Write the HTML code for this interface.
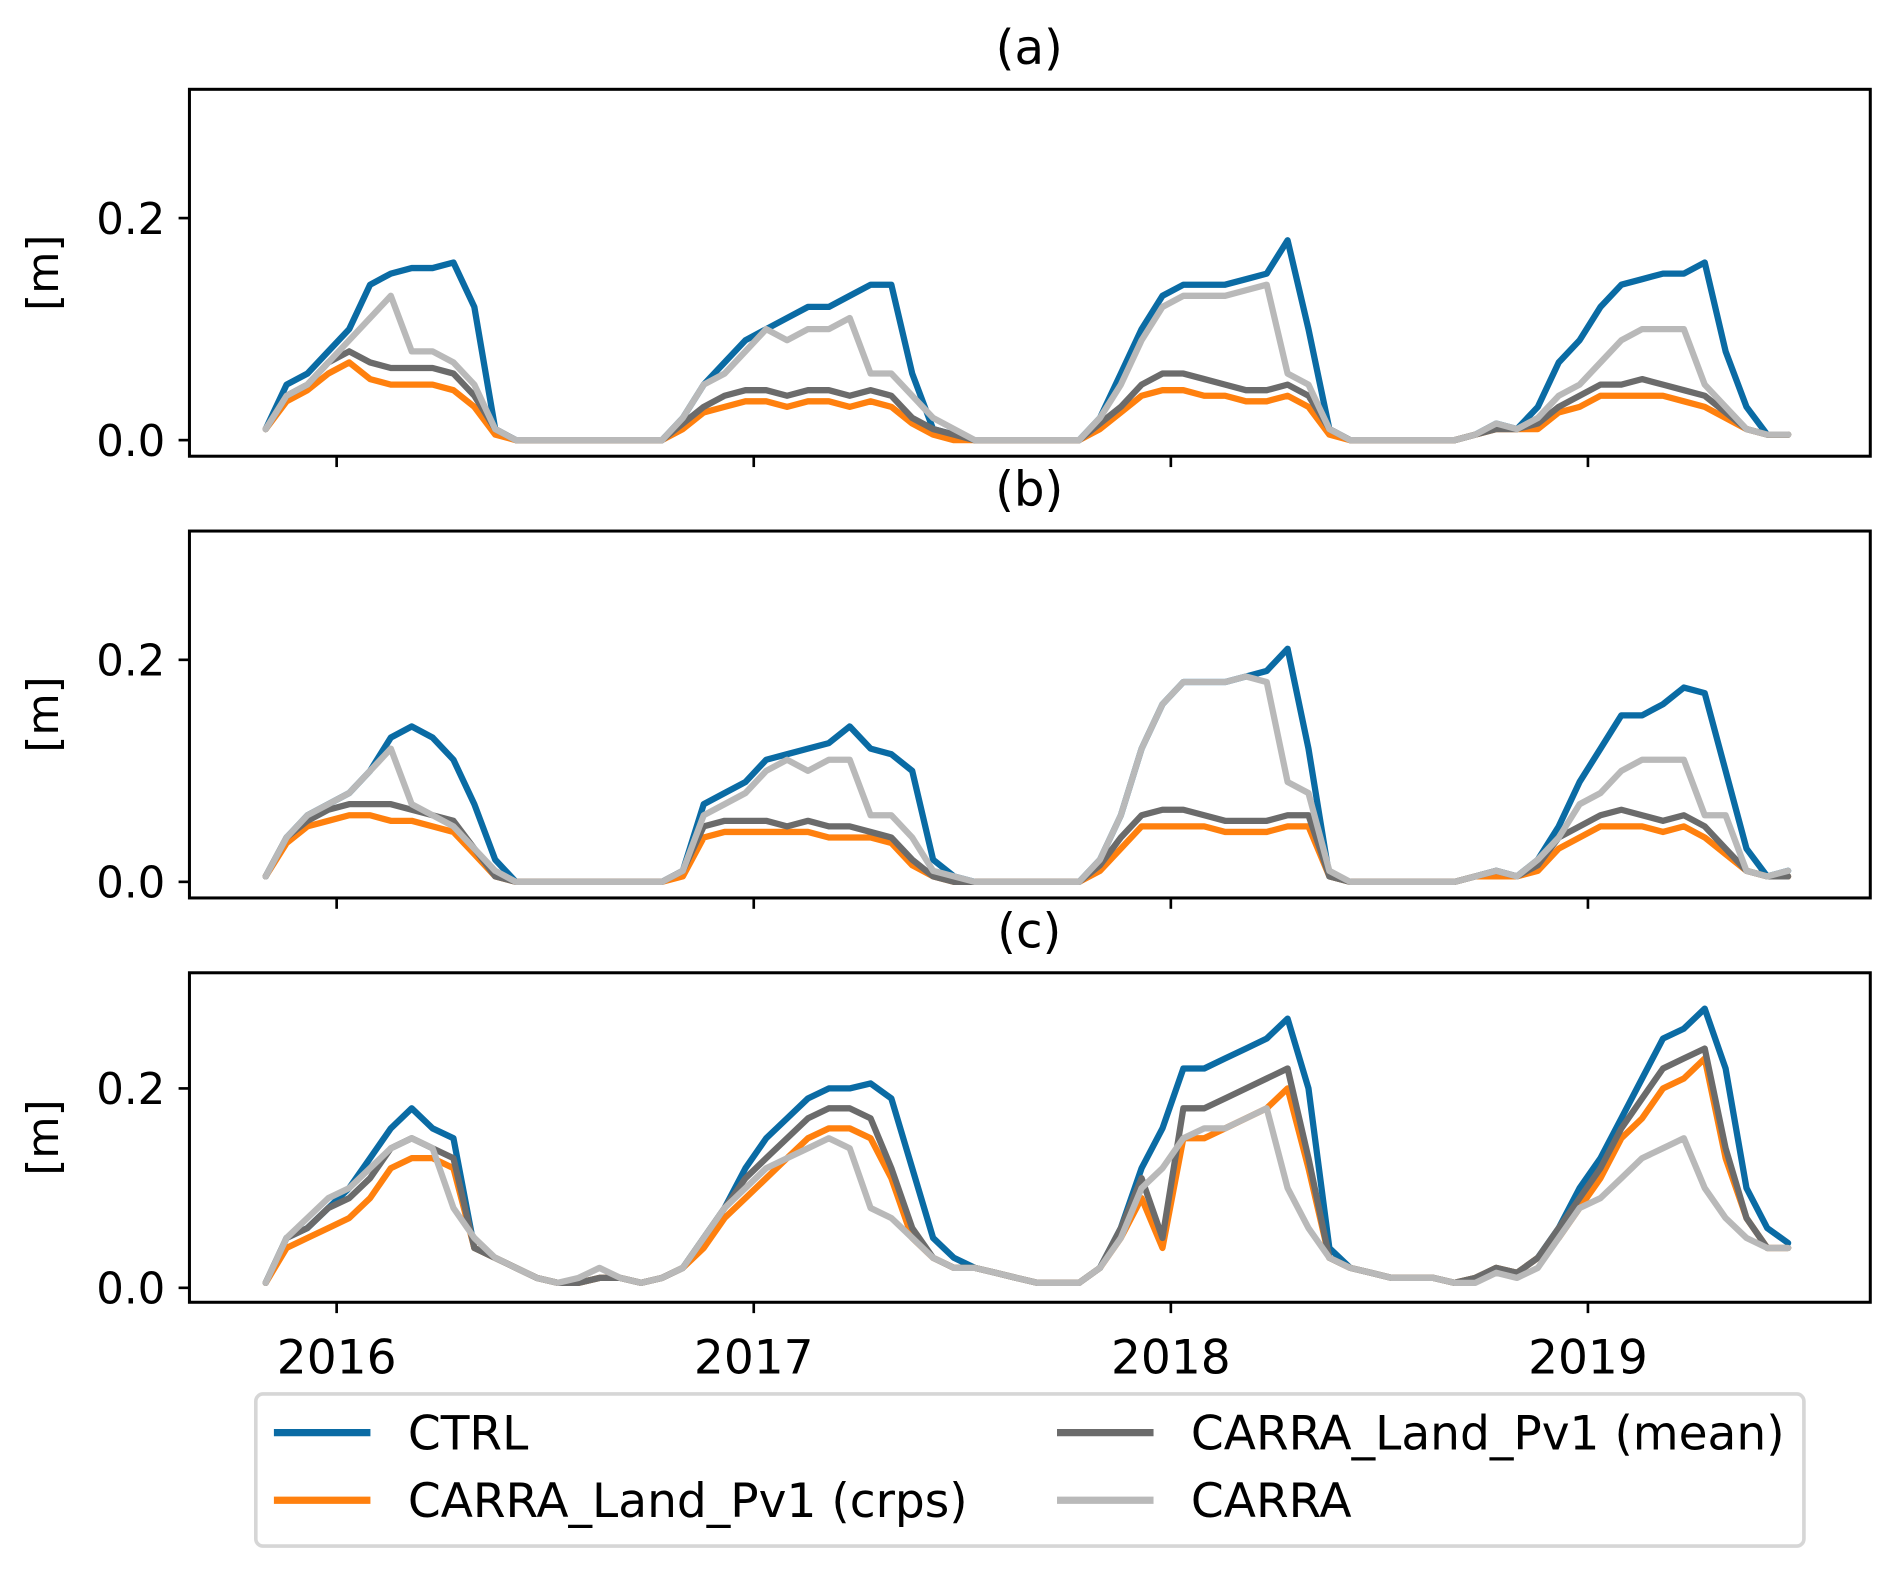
<!DOCTYPE html>
<html><head><meta charset="utf-8"><style>
html,body{margin:0;padding:0;background:#fff;}
svg{display:block;}
text{font-family:"DejaVu Sans","Liberation Sans",sans-serif;fill:#000;}
</style></head><body>
<svg id="chart" width="1892" height="1569" viewBox="0 0 1568 1300" preserveAspectRatio="none" xmlns="http://www.w3.org/2000/svg">
<g id="root"></g>
</svg>
<script>
const times = []; // decimal years, shared sampling grid
for (let i = 0; i < 74; i++) times.push(+(2015.83 + 0.05 * i).toFixed(2));
const xTickYears = [2016, 2017, 2018, 2019];
const yTickVals = [0.0, 0.2];
const yTickLabels = ["0.0", "0.2"];
const panelTitles = ["(a)", "(b)", "(c)"];
const seriesNames = ["CTRL", "CARRA_Land_Pv1 (crps)", "CARRA_Land_Pv1 (mean)", "CARRA"];

const ctrlA = [.01,.05,.06,.08,.10,.14,.15,.155,.155,.16,.12,.01,0, 0,0,0,0,0,0,0, .02,.05,.07,.09,.10,.11,.12,.12,.13,.14,.14,.06,.01,.005, 0,0,0,0,0,0, .02,.06,.10,.13,.14,.14,.14,.145,.15,.18,.10,.01,0, 0,0,0,0,0, .005,.015,.01,.03,.07,.09,.12,.14,.145,.15,.15,.16,.08,.03,.005,.005];
const crpsA = [.01,.035,.045,.06,.07,.055,.05,.05,.05,.045,.03,.005,0, 0,0,0,0,0,0,0, .01,.025,.03,.035,.035,.03,.035,.035,.03,.035,.03,.015,.005,0, 0,0,0,0,0,0, .01,.025,.04,.045,.045,.04,.04,.035,.035,.04,.03,.005,0, 0,0,0,0,0, .005,.01,.01,.01,.025,.03,.04,.04,.04,.04,.035,.03,.02,.01,.005,.005];
const meanA = [.01,.04,.05,.07,.08,.07,.065,.065,.065,.06,.04,.01,0, 0,0,0,0,0,0,0, .015,.03,.04,.045,.045,.04,.045,.045,.04,.045,.04,.02,.01,.005, 0,0,0,0,0,0, .015,.03,.05,.06,.06,.055,.05,.045,.045,.05,.04,.01,0, 0,0,0,0,0, .005,.01,.01,.015,.03,.04,.05,.05,.055,.05,.045,.04,.025,.01,.005,.005];
const carraA = [.01,.04,.05,.07,.09,.11,.13,.08,.08,.07,.05,.01,0, 0,0,0,0,0,0,0, .02,.05,.06,.08,.10,.09,.10,.10,.11,.06,.06,.04,.02,.01, 0,0,0,0,0,0, .02,.05,.09,.12,.13,.13,.13,.135,.14,.06,.05,.01,0, 0,0,0,0,0, .005,.015,.01,.02,.04,.05,.07,.09,.10,.10,.10,.05,.03,.01,.005,.005];

const ctrlB = [.005,.04,.06,.07,.08,.10,.13,.14,.13,.11,.07,.02,0, 0,0,0,0,0,0,0, .01,.07,.08,.09,.11,.115,.12,.125,.14,.12,.115,.10,.02,.005, 0,0,0,0,0,0, .02,.06,.12,.16,.18,.18,.18,.185,.19,.21,.12,.005,0, 0,0,0,0,0, .005,.01,.005,.02,.05,.09,.12,.15,.15,.16,.175,.17,.10,.03,.005,.01];
const crpsB = [.005,.035,.05,.055,.06,.06,.055,.055,.05,.045,.025,.005,0, 0,0,0,0,0,0,0, .005,.04,.045,.045,.045,.045,.045,.04,.04,.04,.035,.015,.005,0, 0,0,0,0,0,0, .01,.03,.05,.05,.05,.05,.045,.045,.045,.05,.05,.005,0, 0,0,0,0,0, .005,.005,.005,.01,.03,.04,.05,.05,.05,.045,.05,.04,.025,.01,.005,.005];
const meanB = [.005,.04,.055,.065,.07,.07,.07,.065,.06,.055,.03,.005,0, 0,0,0,0,0,0,0, .01,.05,.055,.055,.055,.05,.055,.05,.05,.045,.04,.02,.005,0, 0,0,0,0,0,0, .015,.04,.06,.065,.065,.06,.055,.055,.055,.06,.06,.005,0, 0,0,0,0,0, .005,.01,.005,.015,.04,.05,.06,.065,.06,.055,.06,.05,.03,.01,.005,.005];
const carraB = [.005,.04,.06,.07,.08,.10,.12,.07,.06,.05,.03,.01,0, 0,0,0,0,0,0,0, .01,.06,.07,.08,.10,.11,.10,.11,.11,.06,.06,.04,.01,.005, 0,0,0,0,0,0, .02,.06,.12,.16,.18,.18,.18,.185,.18,.09,.08,.01,0, 0,0,0,0,0, .005,.01,.005,.02,.04,.07,.08,.10,.11,.11,.11,.06,.06,.01,.005,.01];

const ctrlC = [.005,.05,.06,.08,.10,.13,.16,.18,.16,.15,.04,.03,.02, .01,.005,.005,.01,.01,.005,.01, .02,.05,.08,.12,.15,.17,.19,.20,.20,.205,.19,.12,.05,.03, .02,.015,.01,.005,.005,.005, .02,.06,.12,.16,.22,.22,.23,.24,.25,.27,.20,.04,.02, .015,.01,.01,.01,.005, .01,.02,.015,.03,.06,.10,.13,.17,.21,.25,.26,.28,.22,.10,.06,.045];
const crpsC = [.005,.04,.05,.06,.07,.09,.12,.13,.13,.12,.04,.03,.02, .01,.005,.005,.01,.01,.005,.01, .02,.04,.07,.09,.11,.13,.15,.16,.16,.15,.11,.05,.03,.02, .02,.015,.01,.005,.005,.005, .02,.05,.09,.04,.15,.15,.16,.17,.18,.20,.12,.03,.02, .015,.01,.01,.01,.005, .01,.02,.015,.03,.05,.08,.11,.15,.17,.20,.21,.23,.13,.07,.04,.04];
const meanC = [.005,.05,.06,.08,.09,.11,.14,.15,.14,.13,.04,.03,.02, .01,.005,.005,.01,.01,.005,.01, .02,.05,.08,.11,.13,.15,.17,.18,.18,.17,.12,.06,.03,.02, .02,.015,.01,.005,.005,.005, .02,.06,.11,.05,.18,.18,.19,.20,.21,.22,.13,.03,.02, .015,.01,.01,.01,.005, .01,.02,.015,.03,.06,.09,.12,.16,.19,.22,.23,.24,.14,.07,.04,.04];
const carraC = [.005,.05,.07,.09,.10,.12,.14,.15,.14,.08,.05,.03,.02, .01,.005,.01,.02,.01,.005,.01, .02,.05,.08,.10,.12,.13,.14,.15,.14,.08,.07,.05,.03,.02, .02,.015,.01,.005,.005,.005, .02,.05,.10,.12,.15,.16,.16,.17,.18,.10,.06,.03,.02, .015,.01,.01,.01,.005, .005,.015,.01,.02,.05,.08,.09,.11,.13,.14,.15,.10,.07,.05,.04,.04];

const panelSeries = [[ctrlA, crpsA, meanA, carraA],[ctrlB, crpsB, meanB, carraB],[ctrlC, crpsC, meanC, carraC]];
const colors = ["#0a6ba4", "#ff800e", "#6b6b6b", "#b9b9b9"];

const NS = "http://www.w3.org/2000/svg";
const root = document.getElementById("root");
function mk(tag, attrs, parent) {
  const e = document.createElementNS(NS, tag);
  for (const k in attrs) e.setAttribute(k, attrs[k]);
  (parent || root).appendChild(e);
  return e;
}
const X0 = 157, X1 = 1550;
const xScale = t => 279 + (t - 2016) * 345.67;
const panels = [{top:74,bottom:378},{top:440,bottom:744},{top:806,bottom:1079}];
const yMin = -0.0145, yMax = 0.316;
const keys = ["a","b","c"];

panels.forEach((p, pi) => {
  const g = mk("g", {});
  
  
  const yScale = v => p.bottom - (v - yMin) / (yMax - yMin) * (p.bottom - p.top);
  const title = mk("text", {x: 853, y: p.top - 21, "font-size": 40, "text-anchor": "middle"}, g);
  title.textContent = panelTitles[pi];
  
  
  panelSeries[pi].forEach((vals, si) => {
    const pts = vals.map((v, i) => xScale(times[i]).toFixed(1) + "," + yScale(v).toFixed(1)).join(" ");
    const line = mk("polyline", {points: pts, fill: "none", stroke: colors[si], "stroke-width": 5.2, "stroke-linejoin": "round", "stroke-linecap": "round"}, g);
    
    
  });
  const frame = mk("rect", {x: X0, y: p.top, width: X1 - X0, height: p.bottom - p.top, fill: "none", stroke: "#000", "stroke-width": 2.5}, g);
  
  
  yTickVals.forEach((v, k) => {
    const y = yScale(v);
    mk("line", {x1: X0 - 9, x2: X0, y1: y, y2: y, stroke: "#000", "stroke-width": 2.2}, g);
    const t = mk("text", {x: X0 - 20, y: y + 13, "font-size": 36, "text-anchor": "end"}, g);
    t.textContent = yTickLabels[k];
    
    
  });
  const yl = mk("text", {x: 0, y: 0, "font-size": 36, "text-anchor": "middle", transform: "translate(48," + ((p.top + p.bottom) / 2 - 0) + ") rotate(-90)"}, g);
  yl.textContent = "[m]";
  
  
  xTickYears.forEach(yr => {
    const x = xScale(yr);
    mk("line", {x1: x, x2: x, y1: p.bottom, y2: p.bottom + 9, stroke: "#000", "stroke-width": 2.2}, g);
    if (pi === 2) {
      const t = mk("text", {x: x, y: p.bottom + 59, "font-size": 39, "text-anchor": "middle"}, g);
      t.textContent = String(yr);
      
      
    }
  });
});

const lg = mk("g", {});


mk("rect", {x: 212, y: 1155, width: 1283, height: 126, rx: 6, fill: "#fff", stroke: "#d6d6d6", "stroke-width": 3}, lg);
const legPos = [[227, 1187], [227, 1243], [876, 1187], [876, 1243]];
const legOrder = [0, 1, 2, 3];
legOrder.forEach((si, k) => {
  const [lx, ly] = legPos[k];
  const e = mk("g", {}, lg);
  
  
  mk("line", {x1: lx, x2: lx + 80, y1: ly, y2: ly, stroke: colors[si], "stroke-width": 6}, e);
  const t = mk("text", {x: lx + 111, y: ly + 14, "font-size": 39}, e);
  t.textContent = seriesNames[si];
});
</script>
</body></html>
